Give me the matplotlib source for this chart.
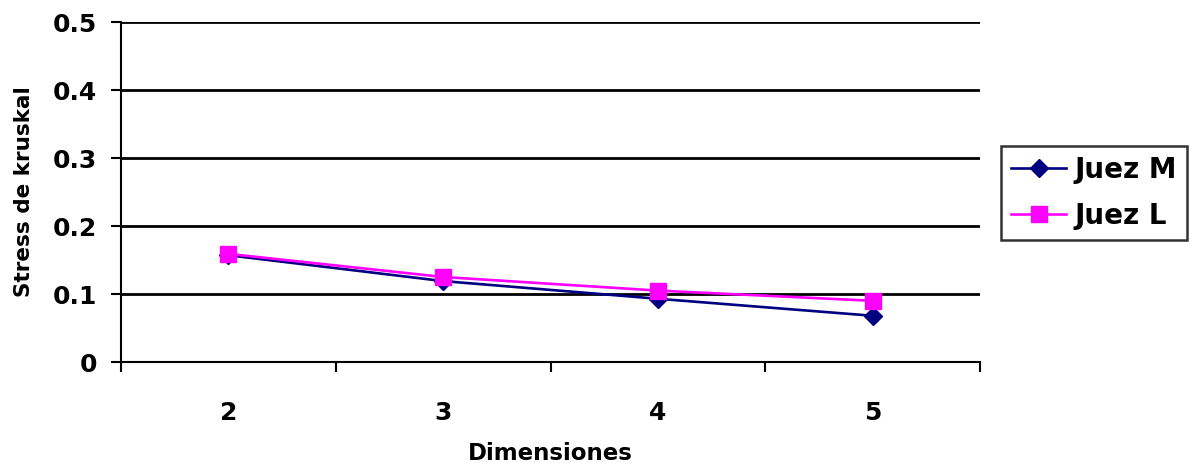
import matplotlib
matplotlib.use("Agg")
import matplotlib.pyplot as plt
import numpy as np

plt.rcParams["font.family"] = ["DejaVu Sans"]
plt.rcParams["font.weight"] = "bold"

dimensiones = ["2", "3", "4", "5"]
juez_m = [0.157, 0.119, 0.093, 0.068]
juez_l = [0.159, 0.125, 0.105, 0.090]

fig = plt.figure(figsize=(11.97, 4.75), dpi=100)
ax = fig.add_axes([121 / 1197, 1 - 362 / 475, (980 - 121) / 1197, 340 / 475])

x = np.arange(len(dimensiones))
ax.plot(x, juez_m, color="#000080", lw=1.9, marker="D", markersize=9,
        label="Juez M", zorder=3)
ax.plot(x, juez_l, color="#FF00FF", lw=1.9, marker="s", markersize=11.5,
        label="Juez L", zorder=4)

ax.set_xlim(-0.5, len(dimensiones) - 0.5)
ax.set_ylim(0, 0.5)
ax.set_yticks([0, 0.1, 0.2, 0.3, 0.4, 0.5])
ax.set_yticklabels(["0", "0.1", "0.2", "0.3", "0.4", "0.5"])
ax.yaxis.grid(True, color="black", lw=2)
ax.set_axisbelow(True)

ax.set_xticks(np.arange(-0.5, len(dimensiones)), labels=[""] * (len(dimensiones) + 1))
ax.set_xticks(x, labels=dimensiones, minor=True)
ax.tick_params(axis="x", which="major", length=7, width=1.5, direction="out")
ax.tick_params(axis="x", which="minor", length=0, pad=28, labelsize=18)
ax.tick_params(axis="y", length=7, width=1.5, labelsize=18, pad=10)

for s in ["top", "right"]:
    ax.spines[s].set_visible(False)
for s in ["left", "bottom"]:
    ax.spines[s].set_linewidth(1.5)

ax.set_xlabel("Dimensiones", fontsize=16.5, fontweight="bold", labelpad=12)
ax.set_ylabel("Stress de kruskal", fontsize=15.5, fontweight="bold", labelpad=14)

leg = fig.legend(loc="center left", bbox_to_anchor=(1001 / 1197, 1 - 193 / 475),
                 fontsize=20, frameon=True, fancybox=False, edgecolor="black",
                 handlelength=2.0, handletextpad=0.3, borderpad=0.35,
                 labelspacing=0.65, borderaxespad=0)
leg.get_frame().set_linewidth(1.8)

fig.savefig("out.png", dpi=100)
